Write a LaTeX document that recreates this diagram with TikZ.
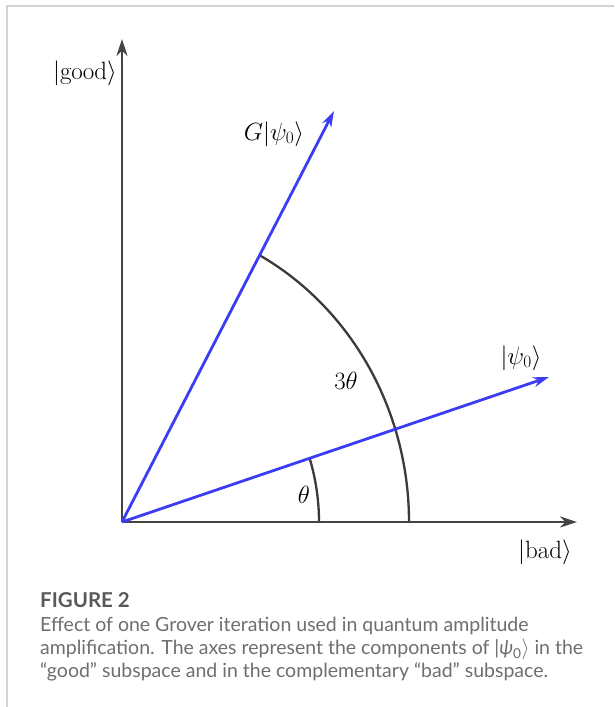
\documentclass[tikz,border=0pt]{standalone}
\usepackage{fontspec}
\newfontfamily\capfont{Lato}
\usetikzlibrary{arrows.meta}
\definecolor{axisgray}{HTML}{444444}
\definecolor{vecblue}{HTML}{3C3CF5}
\definecolor{arcgray}{HTML}{3A3A3A}
\definecolor{framegray}{HTML}{D2D2D2}
\definecolor{captext}{HTML}{6E6E6E}
\definecolor{capheadcol}{HTML}{595959}
\tikzset{
  axisline/.style={draw=axisgray, line width=2.8pt, -{Stealth[length=17pt,width=11pt]}},
  vecline/.style={draw=vecblue, line width=2.8pt, -{Stealth[length=16pt,width=10pt]}},
  arcline/.style={draw=arcgray, line width=2.3pt},
  frameline/.style={draw=framegray, line width=1.2pt},
  mathlabel/.style={font=\fontsize{25}{28}\selectfont, inner sep=0pt},
  capheadstyle/.style={font=\capfont\bfseries\fontsize{20.5}{24}\selectfont, text=capheadcol, inner sep=0pt, anchor=base west},
  capline/.style={font=\capfont\fontsize{19.5}{23}\selectfont, text=captext, inner sep=0pt, anchor=base west}
}
\begin{document}
\begin{tikzpicture}[x=1pt,y=1pt]
  \useasboundingbox (0,0) rectangle (614,707);
  % frame
  \coordinate (fc) at (7,701);
  \coordinate (fr) at (614,701);
  \coordinate (fb) at (7,0);
  \draw[frameline] (fr) -- (fc) -- (fb);
  % points
  \coordinate (O) at (122,185);
  \coordinate (X) at (577,185);
  \coordinate (Y) at (122,668);
  \coordinate (P) at (549,330);
  \coordinate (G) at (334,596);
  % arcs
  \coordinate (a1) at (319,185);
  \coordinate (a2) at (409,185);
  \draw[arcline] (a1) arc[start angle=0, end angle=17.7, x radius=197, y radius=209];
  \draw[arcline] (a2) arc[start angle=0, end angle=61.4, x radius=287, y radius=304];
  % axes
  \draw[axisline] (O) -- (X);
  \draw[axisline] (O) -- (Y);
  % vectors
  \draw[vecline] (O) -- (P);
  \draw[vecline] (O) -- (G);
  % labels
  \node[mathlabel] (lgood) at (85,634) {$|\mathrm{good}\rangle$};
  \node[mathlabel] (lbad) at (545,155) {$|\mathrm{bad}\rangle$};
  \node[mathlabel] (lG) at (274,573) {$G|\psi_0\rangle$};
  \node[mathlabel] (lpsi) at (521,349) {$|\psi_0\rangle$};
  \node[mathlabel] (lth) at (304,212) {$\theta$};
  \node[mathlabel] (l3th) at (346,326) {$3\theta$};
  % caption
  \node[capheadstyle] (fig) at (40,99) {FIGURE 2};
  \node[capline] (c1) at (40,75) {Effect of one Grover iteration used in quantum amplitude};
  \node[capline] (c2) at (40,52) {amplification. The axes represent the components of {|}{\itshape ψ}\textsubscript{0}$\rangle$ in the};
  \node[capline] (c3) at (40,29) {“good” subspace and in the complementary “bad” subspace.};
\end{tikzpicture}
\end{document}
